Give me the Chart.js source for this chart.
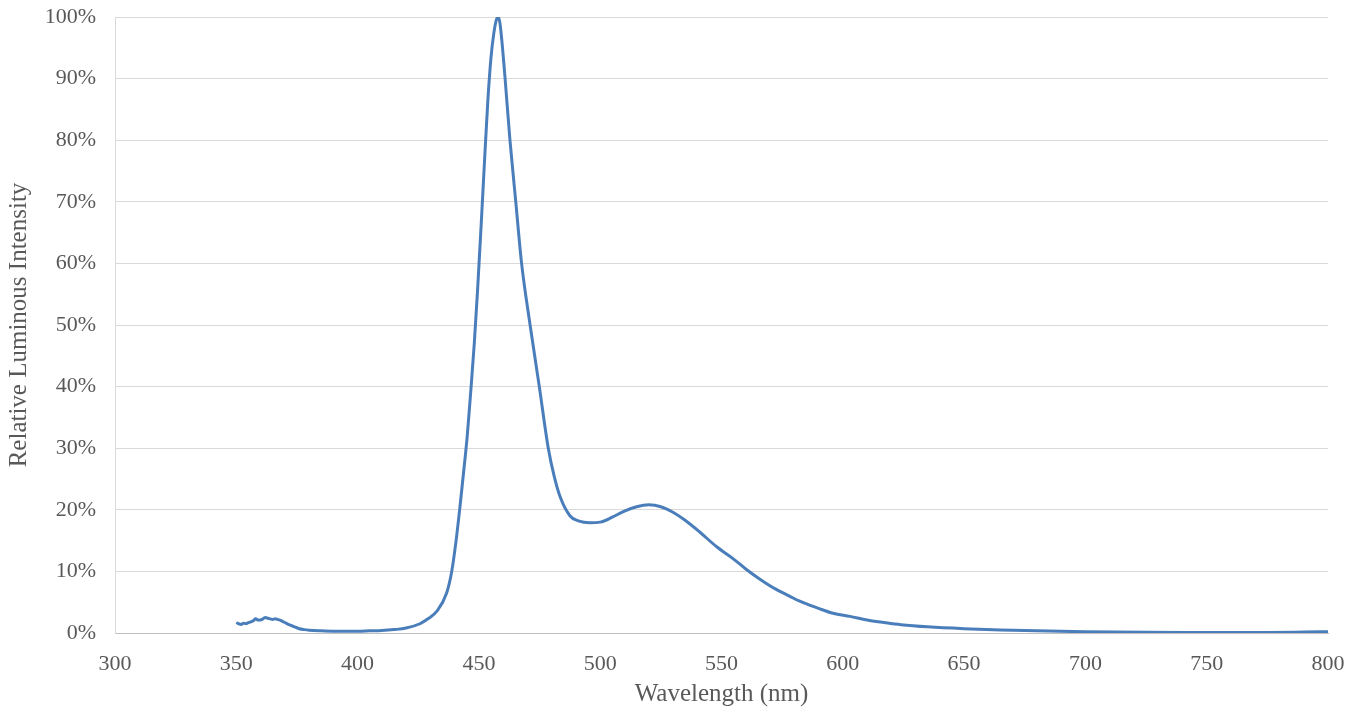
<!DOCTYPE html>
<html lang="en">
<head>
  <meta charset="UTF-8">
  <title>Relative Luminous Intensity</title>
  <script src="https://cdn.jsdelivr.net/npm/chart.js@4"></script>
  <style>
    html, body { margin: 0; padding: 0; background: #fff; }
    .chart-container { width: 1360px; height: 710px; }
  </style>
</head>
<body>
<div class="chart-container">
  <canvas id="spectrumChart" width="1360" height="710"></canvas>
</div>

<script>
  // spectrum (nm / % of peak)
  const wavelengths = [
    350, 351, 352, 353, 354, 355, 356, 357, 358, 359, 360, 361, 362, 363, 364, 365, 366, 367, 368, 369,
    370, 372, 374, 376, 378, 380, 385, 390, 395, 400, 405, 410, 415, 420, 425.7, 429, 432.6, 436.7, 438.8, 440.6,
    442.2, 443.8, 445.2, 446.6, 448.1, 449.5, 450.9, 452.3, 453.7, 455, 456.2, 457.1, 457.8, 458.6, 459.4, 460.8,
    462.8, 465.2, 467.6, 471.1, 474.9, 478.6, 481, 483.4, 487.6, 491, 495.8, 500, 505, 510, 515, 520, 525, 530,
    535, 541, 548, 555, 560, 566, 572, 578, 582, 590, 596, 603, 610, 617, 624, 635, 650, 665, 680, 700,
    725, 750, 775, 790, 800
  ];
  const intensity = [
    1.7, 1.5, 1.4, 1.6, 1.5, 1.7, 1.8, 2.0, 2.3, 2.1, 2.1, 2.3, 2.5, 2.4, 2.3, 2.2, 2.3, 2.2, 2.1, 1.9,
    1.7, 1.3, 1.0, 0.7, 0.55, 0.45, 0.35, 0.3, 0.3, 0.3, 0.35, 0.4, 0.55, 0.8, 1.5, 2.3, 3.5, 6.5, 10, 15,
    20.5, 26.5, 32, 39, 47, 56, 66, 76.5, 86.5, 93.5, 97.5, 99.4, 100, 99.2, 96.4, 90,
    80, 70, 60, 50, 40, 30, 25.5, 22.2, 19.0, 18.2, 17.9, 18.0, 18.8, 19.8, 20.5, 20.8, 20.5, 19.6,
    18.3, 16.4, 14, 12, 10.4, 8.7, 7.2, 6.0, 5.2, 4.0, 3.2, 2.7, 2.1, 1.7, 1.35, 1.0, 0.7, 0.5, 0.35, 0.2,
    0.12, 0.1, 0.1, 0.15, 0.2
  ];
  const xTicks = [300, 350, 400, 450, 500, 550, 600, 650, 700, 750, 800];
  const yTicks = [0, 10, 20, 30, 40, 50, 60, 70, 80, 90, 100];

  const points = wavelengths.map((w, i) => ({ x: w, y: intensity[i] }));

  const serif = "'Liberation Serif', 'Times New Roman', serif";
  const grey = '#595959';

  const ctx = document.getElementById('spectrumChart').getContext('2d');
  new Chart(ctx, {
    type: 'line',
    data: {
      datasets: [{
        data: points,
        borderColor: '#4a7ebb',
        borderWidth: 3,
        pointRadius: 0,
        fill: false,
        cubicInterpolationMode: 'monotone'
      }]
    },
    options: {
      responsive: false,
      animation: false,
      layout: { padding: { left: 0, top: 17, right: 32, bottom: 0 } },
      plugins: { legend: { display: false }, tooltip: { enabled: false } },
      scales: {
        x: {
          type: 'linear',
          min: xTicks[0],
          max: xTicks[xTicks.length - 1],
          afterBuildTicks: s => { s.ticks = xTicks.map(v => ({ value: v })); },
          afterFit: s => { s.height = 77; s.paddingLeft = 0; s.paddingRight = 0; },
          grid: { display: false, drawTicks: false },
          border: { display: true, color: '#bfbfbf', width: 1 },
          ticks: { color: grey, font: { family: serif, size: 22 }, padding: 18, maxRotation: 0 },
          title: {
            display: true, text: 'Wavelength (nm)', color: grey,
            font: { family: serif, size: 25 }, padding: { top: 0, bottom: 1 }
          }
        },
        y: {
          min: yTicks[0],
          max: yTicks[yTicks.length - 1],
          afterBuildTicks: s => { s.ticks = yTicks.map(v => ({ value: v })); },
          afterFit: s => { s.width = 115; s.paddingTop = 0; s.paddingBottom = 0; },
          grid: { color: '#d9d9d9', lineWidth: 1, drawTicks: false },
          border: { display: true, color: '#d9d9d9', width: 1 },
          ticks: { color: grey, font: { family: serif, size: 22 }, padding: 19, callback: v => v + '%' },
          title: {
            display: true, text: 'Relative Luminous Intensity', color: grey,
            font: { family: serif, size: 25 }, padding: { top: 4, bottom: 0 }
          }
        }
      }
    }
  });
</script>
</body>
</html>
